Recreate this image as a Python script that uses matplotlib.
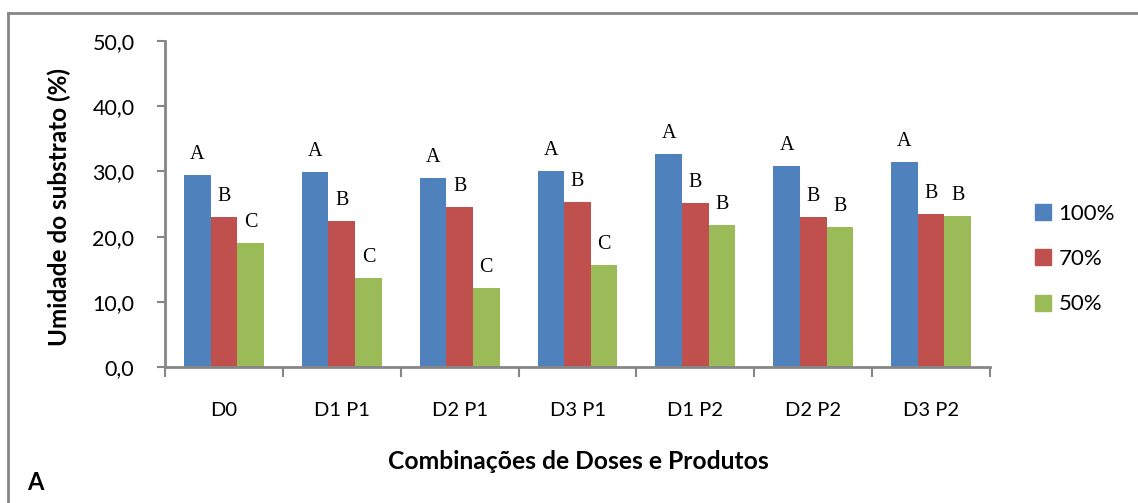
import matplotlib.pyplot as plt
import numpy as np
from matplotlib.lines import Line2D

# dados
combinacoes = ["D0", "D1 P1", "D2 P1", "D3 P1", "D1 P2", "D2 P2", "D3 P2"]
umidade_100 = [29.4, 29.9, 29.0, 30.1, 32.7, 30.8, 31.4]
umidade_70 = [23.0, 22.4, 24.5, 25.3, 25.2, 23.0, 23.5]
umidade_50 = [19.0, 13.6, 12.1, 15.6, 21.8, 21.5, 23.2]
letras_100 = ["A", "A", "A", "A", "A", "A", "A"]
letras_70 = ["B", "B", "B", "B", "B", "B", "B"]
letras_50 = ["C", "C", "C", "C", "B", "B", "B"]
rotulos_series = ["100%", "70%", "50%"]

cores = ["#4F81BD", "#C0504D", "#9BBB59"]
cinza = "#868686"
fonte = "Lato"

fig = plt.figure(figsize=(11.38, 5.03), dpi=100)
ax = fig.add_axes([0.145, 0.2704, 0.725, 0.648])

x = np.arange(len(combinacoes))
largura = 0.226
series = [umidade_100, umidade_70, umidade_50]
letras = [letras_100, letras_70, letras_50]

for i, (valores, let) in enumerate(zip(series, letras)):
    pos = x + (i - 1) * largura
    ax.bar(pos, valores, width=largura, color=cores[i], zorder=2)
    for px, v, l in zip(pos, valores, let):
        ax.annotate(l, (px, v), xytext=(0, 8), textcoords="offset points",
                    ha="center", va="bottom", fontsize=14.5,
                    family="Liberation Serif")

ax.set_xlim(-0.5, len(combinacoes) - 0.5)
ax.set_ylim(0, 50)
ax.set_yticks(np.arange(0, 51, 10))
ax.set_yticklabels([f"{v:.1f}".replace(".", ",") for v in np.arange(0, 51, 10)],
                   family=fonte, fontsize=15.5)
ax.set_xticks(np.arange(-0.5, len(combinacoes), 1))
ax.set_xticklabels([])
ax.set_xticks(x, minor=True)
ax.set_xticklabels(combinacoes, minor=True, family=fonte, fontsize=14.5)

ax.tick_params(axis="y", direction="out", length=6, width=1.5, color=cinza, pad=16)
ax.tick_params(axis="x", which="major", direction="out", length=7, width=1.5, color=cinza)
ax.tick_params(axis="x", which="minor", length=0, pad=25)

for lado in ["top", "right"]:
    ax.spines[lado].set_visible(False)
for lado in ["left", "bottom"]:
    ax.spines[lado].set_color(cinza)
    ax.spines[lado].set_linewidth(2)

# rótulos dos eixos
fig.text(0.052, 0.588, "Umidade do substrato (%)", rotation=90, ha="center",
         va="center", family=fonte, fontsize=17.5, fontweight="bold")
fig.text(0.508, 0.082, "Combinações de Doses e Produtos", ha="center",
         va="center", family=fonte, fontsize=17.7, fontweight="bold")
fig.text(0.024, 0.04, "A", ha="left", va="center", family=fonte,
         fontsize=17, fontweight="bold")

# legenda
handles = [Line2D([], [], marker="s", linestyle="none", markersize=11,
                  markerfacecolor=c, markeredgecolor=c) for c in cores]
fig.legend(handles, rotulos_series, loc="center left",
           bbox_to_anchor=(0.889, 0.485), frameon=False,
           prop={"family": fonte, "size": 16}, labelspacing=1.14,
           handletextpad=0.2, handlelength=1.0)

# borda da área do gráfico
fig.add_artist(Line2D([8 / 1138, 1.0], [1 - 12.5 / 503, 1 - 12.5 / 503],
                      color=cinza, linewidth=2, transform=fig.transFigure))
fig.add_artist(Line2D([8 / 1138, 8 / 1138], [0, 1 - 12.5 / 503],
                      color=cinza, linewidth=2, transform=fig.transFigure))

fig.savefig("out.png", dpi=100)
